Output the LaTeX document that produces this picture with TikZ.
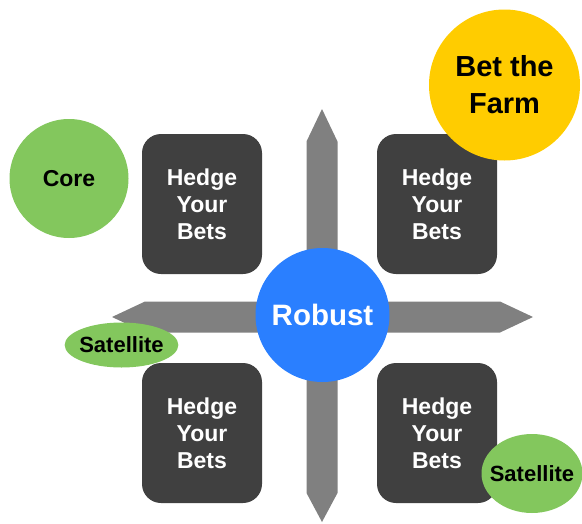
\documentclass[tikz,border=0pt]{standalone}
\usepackage{fontspec}
\setmainfont{Liberation Sans}
\usetikzlibrary{shapes.geometric}
\definecolor{BoxGray}{HTML}{404040}
\definecolor{ArrowGray}{HTML}{808080}
\definecolor{CoreGreen}{HTML}{83C75D}
\definecolor{RobustBlue}{HTML}{2A7FFF}
\definecolor{FarmYellow}{HTML}{FFCC00}
\tikzset{axis/.style={
         fill=ArrowGray,draw=none}}
\tikzset{hedge/.style={
         fill=BoxGray,rounded corners=19pt,minimum width=120pt,minimum height=140pt,inner sep=0pt,
         text=white,align=center,font=\fontsize{23}{27}\selectfont\bfseries}}
\tikzset{bubble/.style={
         shape=circle,fill=#1,inner sep=0pt,align=center}}
\tikzset{satellite/.style={
         shape=ellipse,fill=CoreGreen,inner ysep=0pt,font=\fontsize{22}{26}\selectfont\bfseries}}

\begin{document}
\begin{tikzpicture}[x=1pt,y=-1pt]
\useasboundingbox (0,0) rectangle (582,523);

% axes
\fill [axis] (322,109) -- (337.5,141.5) -- (337.5,493) -- (322,522) -- (306.5,493) -- (306.5,141.5) -- cycle;
\fill [axis] (112,317) -- (145,301.5) -- (500,301.5) -- (533,317) -- (500,332.5) -- (145,332.5) -- cycle;

% quadrants
\foreach \x/\y/\n in {202/204/tl,437/204/tr,202/433/bl,437/433/br}
  {\node (hedge-\n) at (\x,\y) [hedge] {Hedge\\Your\\Bets};}

% centre and corners
\node (robust) at (322.5,315) [bubble=RobustBlue,minimum size=134pt,text=white,
  font=\fontsize{29.5}{34}\selectfont\bfseries] {Robust};
\node (core) at (69,178.5) [bubble=CoreGreen,minimum size=119pt,
  font=\fontsize{23}{27}\selectfont\bfseries] {Core};
\node (farm) at (504.5,85) [bubble=FarmYellow,minimum size=151pt,
  font=\fontsize{29}{37}\selectfont\bfseries] {Bet the\\Farm};
\node (sat-left) at (121.5,345) [satellite,inner xsep=-2pt,minimum width=113pt,minimum height=45pt] {Satellite};
\node (sat-right) at (532,473.5) [satellite,inner xsep=-6.5pt,minimum width=101pt,minimum height=79pt] {Satellite};
\end{tikzpicture}
\end{document}
